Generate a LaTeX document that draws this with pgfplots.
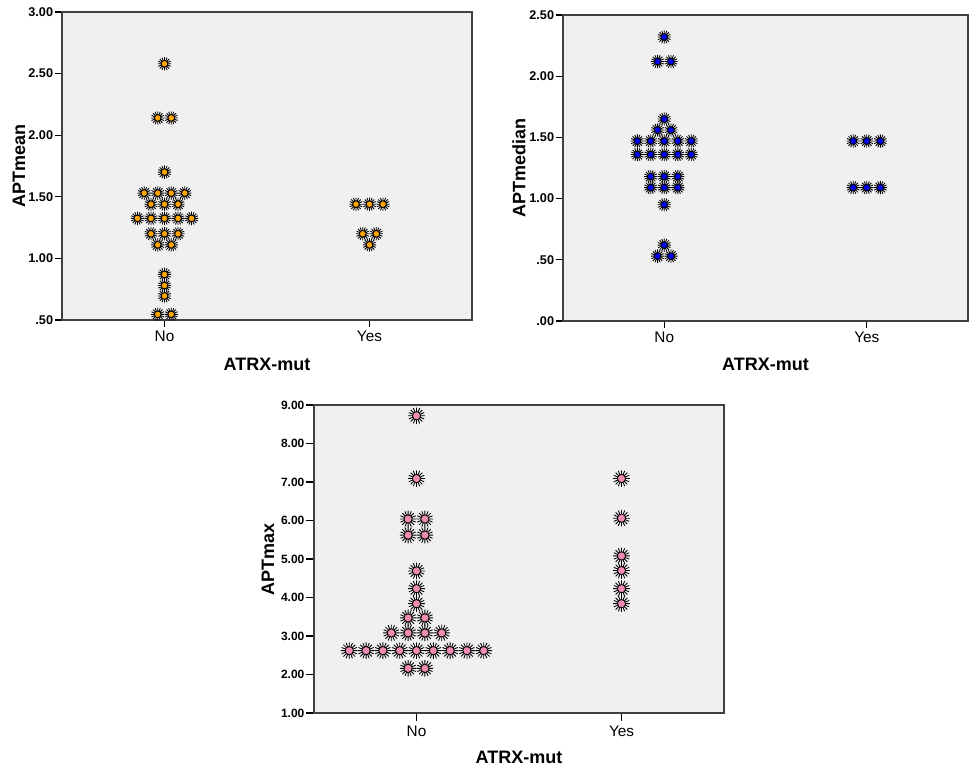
\documentclass[border=0pt]{standalone}
\usepackage{fontspec}
\setmainfont{Liberation Sans}
\usepackage{pgfplots}
\pgfplotsset{compat=1.18}
\definecolor{bgc}{HTML}{F0F0F0}
\definecolor{orng}{HTML}{FFA500}
\definecolor{blu}{HTML}{0000F0}
\definecolor{pnk}{HTML}{F08CB4}
\pgfdeclareplotmark{burst}{%
  \pgfpathmoveto{\pgfpointpolar{0}{\pgfplotmarksize}}\pgfpathlineto{\pgfpointpolar{180}{\pgfplotmarksize}}%
  \pgfpathmoveto{\pgfpointpolar{22.5}{\pgfplotmarksize}}\pgfpathlineto{\pgfpointpolar{202.5}{\pgfplotmarksize}}%
  \pgfpathmoveto{\pgfpointpolar{45}{\pgfplotmarksize}}\pgfpathlineto{\pgfpointpolar{225}{\pgfplotmarksize}}%
  \pgfpathmoveto{\pgfpointpolar{67.5}{\pgfplotmarksize}}\pgfpathlineto{\pgfpointpolar{247.5}{\pgfplotmarksize}}%
  \pgfpathmoveto{\pgfpointpolar{90}{\pgfplotmarksize}}\pgfpathlineto{\pgfpointpolar{270}{\pgfplotmarksize}}%
  \pgfpathmoveto{\pgfpointpolar{112.5}{\pgfplotmarksize}}\pgfpathlineto{\pgfpointpolar{292.5}{\pgfplotmarksize}}%
  \pgfpathmoveto{\pgfpointpolar{135}{\pgfplotmarksize}}\pgfpathlineto{\pgfpointpolar{315}{\pgfplotmarksize}}%
  \pgfpathmoveto{\pgfpointpolar{157.5}{\pgfplotmarksize}}\pgfpathlineto{\pgfpointpolar{337.5}{\pgfplotmarksize}}%
  \pgfusepathqstroke
  \pgfpathcircle{\pgfpointorigin}{0.5\pgfplotmarksize}%
  \pgfusepathqfillstroke
}
\pgfplotsset{
  spss/.style={
    scale only axis,
    axis background/.style={fill=bgc},
    axis line style={draw=black!75, line width=0.8pt},
    tick pos=left,
    tick align=outside,
    major tick length=5pt,
    every tick/.style={black, line width=0.8pt},
    xmin=-0.5, xmax=1.5,
    xtick={0,1}, xticklabels={No,Yes},
    /pgf/number format/assume math mode=true,
    xticklabel style={font=\fontsize{11.5}{12}\selectfont},
    yticklabel style={font=\fontsize{9.5}{10}\bfseries\selectfont, inner sep=1.5pt},
    label style={font=\fontsize{13.5}{14}\bfseries\selectfont},
    xlabel={ATRX-mut},
    xlabel style={at={(axis description cs:0.5,-0.143)}, anchor=center},
    clip=false,
    only marks,
  },
}
\begin{document}
\begin{tikzpicture}
\useasboundingbox (0,0) rectangle (726.75pt,575.25pt);
% Panel 1: APTmean
\begin{axis}[spss, at={(46.5pt,335.25pt)}, anchor=south west,
  width=307.5pt, height=231pt,
  ymin=0.5, ymax=3.0,
  ytick={0.5,1,1.5,2,2.5,3}, yticklabels={.50,1.00,1.50,2.00,2.50,3.00},
  ylabel={APTmean},
  ylabel style={at={(axis description cs:-0.105,0.5)}, anchor=center},
]
\addplot[mark=burst, mark size=5pt, mark options={draw=black, fill=orng, line width=0.65pt}] coordinates {
(0,2.58)
(-0.033,2.14)(0.033,2.14)
(0,1.70)
(-0.099,1.53)(-0.033,1.53)(0.033,1.53)(0.099,1.53)
(-0.066,1.44)(0,1.44)(0.066,1.44)
(-0.132,1.325)(-0.066,1.325)(0,1.325)(0.066,1.325)(0.132,1.325)
(-0.066,1.20)(0,1.20)(0.066,1.20)
(-0.033,1.11)(0.033,1.11)
(0,0.87)(0,0.78)(0,0.695)
(-0.033,0.546)(0.033,0.546)
(0.934,1.44)(1,1.44)(1.066,1.44)
(0.967,1.20)(1.033,1.20)
(1,1.11)
};
\end{axis}
% Panel 2: APTmedian
\begin{axis}[spss, at={(422.25pt,334.5pt)}, anchor=south west,
  width=303.75pt, height=229.5pt,
  ymin=0, ymax=2.5,
  ytick={0,0.5,1,1.5,2,2.5}, yticklabels={.00,.50,1.00,1.50,2.00,2.50},
  ylabel={APTmedian},
  ylabel style={at={(axis description cs:-0.109,0.5)}, anchor=center},
]
\addplot[mark=burst, mark size=5pt, mark options={draw=black, fill=blu, line width=0.65pt}] coordinates {
(0,2.32)
(-0.033,2.12)(0.033,2.12)
(0,1.65)
(-0.033,1.56)(0.033,1.56)
(-0.133,1.47)(-0.067,1.47)(0,1.47)(0.067,1.47)(0.133,1.47)
(-0.133,1.36)(-0.067,1.36)(0,1.36)(0.067,1.36)(0.133,1.36)
(-0.067,1.18)(0,1.18)(0.067,1.18)
(-0.067,1.09)(0,1.09)(0.067,1.09)
(0,0.95)
(0,0.62)
(-0.033,0.53)(0.033,0.53)
(0.933,1.47)(1,1.47)(1.067,1.47)
(0.933,1.09)(1,1.09)(1.067,1.09)
};
\end{axis}
% Panel 3: APTmax
\begin{axis}[spss, at={(235.5pt,40.5pt)}, anchor=south west,
  width=307.5pt, height=231pt,
  major tick length=6pt,
  ymin=1, ymax=9,
  ytick={1,2,3,4,5,6,7,8,9}, yticklabels={1.00,2.00,3.00,4.00,5.00,6.00,7.00,8.00,9.00},
  yticklabel style={font=\fontsize{9}{10}\bfseries\selectfont, inner sep=1pt},
  ylabel={APTmax},
  ylabel style={at={(axis description cs:-0.112,0.5)}, anchor=center},
]
\addplot[mark=burst, mark size=6.2pt, mark options={draw=black, fill=pnk, line width=0.65pt}] coordinates {
(0,8.72)(0,7.09)
(-0.041,6.04)(0.041,6.04)
(-0.041,5.62)(0.041,5.62)
(0,4.69)(0,4.23)(0,3.84)
(-0.041,3.47)(0.041,3.47)
(-0.123,3.08)(-0.041,3.08)(0.041,3.08)(0.123,3.08)
(-0.328,2.62)(-0.246,2.62)(-0.164,2.62)(-0.082,2.62)(0,2.62)(0.082,2.62)(0.164,2.62)(0.246,2.62)(0.328,2.62)
(-0.041,2.16)(0.041,2.16)
(1,7.09)(1,6.06)(1,5.08)(1,4.70)(1,4.23)(1,3.84)
};
\end{axis}
\end{tikzpicture}
\end{document}
